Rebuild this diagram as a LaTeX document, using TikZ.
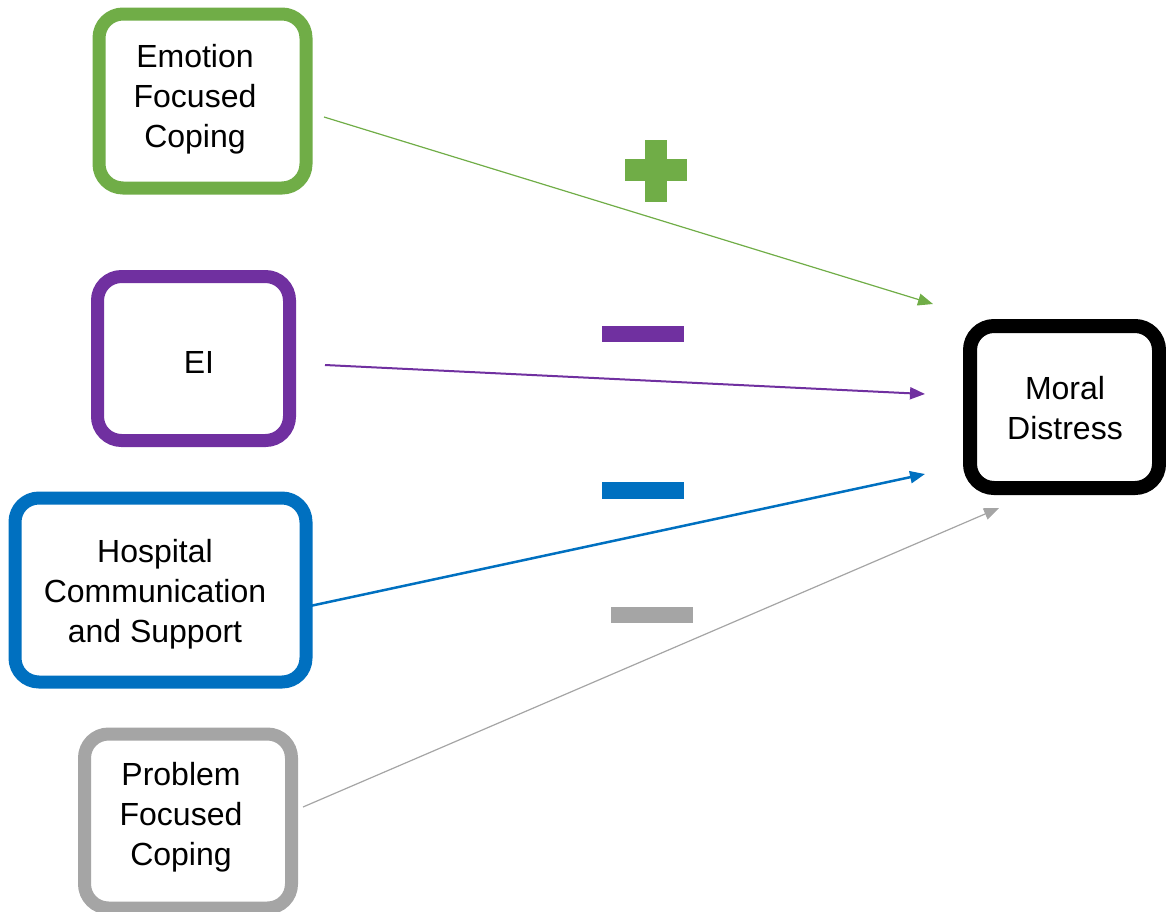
\documentclass[tikz,border=0pt]{standalone}
\usepackage{fontspec}
\setmainfont{Liberation Sans}
\usetikzlibrary{arrows.meta}
\definecolor{cgreen}{HTML}{70AD47}
\definecolor{cpurple}{HTML}{7030A0}
\definecolor{cblue}{HTML}{0070C0}
\definecolor{cgray}{HTML}{A5A5A5}
\tikzset{
  box/.style={draw=#1, line width=13pt, rounded corners=24pt, fill=white, inner sep=0pt},
  lbl/.style={align=center, font=\fontsize{32}{40}\selectfont, inner sep=0pt},
  conn/.style={draw=#1, -{Triangle[length=15pt,width=12pt]}},
  bar/.style={fill=#1, draw=none},
}
\begin{document}
\begin{tikzpicture}[x=1pt,y=-1pt]
\useasboundingbox (0,0) rectangle (1166,911);
% boxes
\node[box=cgreen, minimum width=207pt, minimum height=174pt] (efc) at (202.5,101) {};
\node[lbl] (efct) at (195,99) {Emotion\\Focused\\Coping};
\node[box=cpurple, minimum width=192pt, minimum height=164pt] (ei) at (193.5,358.5) {};
\node[lbl] (eit) at (199,362) {EI};
\node[box=cblue, minimum width=291pt, minimum height=184pt] (hcs) at (160.5,590) {};
\node[lbl] (hcst) at (155,594) {Hospital\\Communication\\and Support};
\node[box=cgray, minimum width=207pt, minimum height=174pt] (pfc) at (188,821) {};
\node[lbl] (pfct) at (181,817) {Problem\\Focused\\Coping};
\node[box=black, line width=14pt, minimum width=189pt, minimum height=162pt] (md) at (1064.5,407) {};
\node[lbl] (mdt) at (1065,408) {Moral\\Distress};
% connector ends
\coordinate (s1) at (324,117);
\coordinate (e1) at (933,304);
\coordinate (s2) at (325,365);
\coordinate (e2) at (925,394);
\coordinate (s3) at (310,606);
\coordinate (e3) at (925,474);
\coordinate (s4) at (303,807);
\coordinate (e4) at (999,508);
\draw[conn=cgreen, line width=1.2pt] (s1) -- (e1);
\draw[conn=cpurple, line width=2pt] (s2) -- (e2);
\draw[conn=cblue, line width=2.5pt] (s3) -- (e3);
\draw[conn=cgray, line width=1.2pt] (s4) -- (e4);
% signs
\path[bar=cgreen] (625,159) rectangle (687,181);
\path[bar=cgreen] (645,140) rectangle (667,202);
\path[bar=cpurple] (602,326) rectangle (684,342);
\path[bar=cblue] (602,482) rectangle (684,499);
\path[bar=cgray] (611,607) rectangle (693,623);
\end{tikzpicture}
\end{document}
